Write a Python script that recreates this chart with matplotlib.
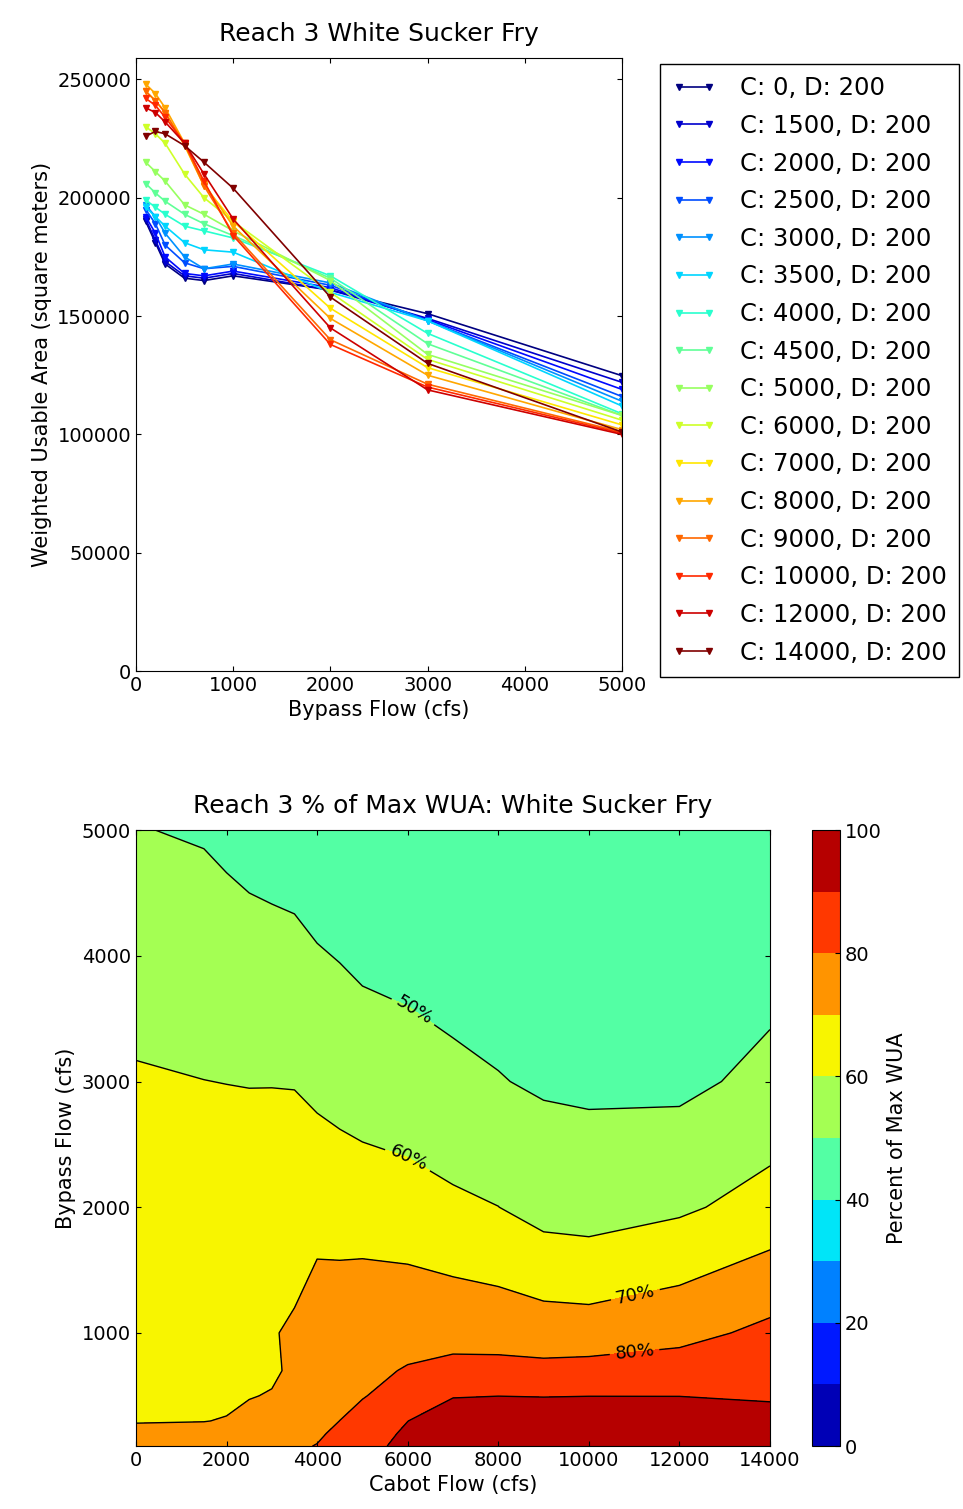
import numpy as np
import matplotlib
matplotlib.use('Agg')
import matplotlib.pyplot as plt

# bypass flows (cfs) sampled for every Cabot flow
bypass = [100, 200, 300, 500, 700, 1000, 2000, 3000, 5000]
cabot = [0, 1500, 2000, 2500, 3000, 3500, 4000, 4500, 5000,
         6000, 7000, 8000, 9000, 10000, 12000, 14000]

# weighted usable area (square meters), one row per Cabot flow
wua_c0 = [190000, 181000, 172000, 166000, 165000, 167000, 161000, 151000, 124800]
wua_c1500 = [191000, 182000, 173000, 167000, 166000, 168000, 161000, 149000, 122000]
wua_c2000 = [192000, 185000, 175000, 168000, 167000, 169000, 162000, 148500, 119000]
wua_c2500 = [195000, 189000, 180000, 172500, 170000, 171000, 163000, 148000, 116000]
wua_c3000 = [197000, 192000, 185000, 175000, 170000, 172000, 164000, 148000, 114000]
wua_c3500 = [196000, 192000, 188000, 181000, 178000, 177000, 160000, 148000, 112000]
wua_c4000 = [199000, 196000, 193000, 188000, 186000, 183000, 167000, 142700, 108700]
wua_c4500 = [206000, 202000, 198500, 193000, 189000, 184000, 166000, 138300, 108000]
wua_c5000 = [215000, 211000, 207000, 197000, 193000, 186000, 165000, 133800, 108000]
wua_c6000 = [230000, 227000, 223000, 210000, 200000, 190000, 160000, 131700, 106000]
wua_c7000 = [245000, 241000, 236000, 222000, 205000, 190000, 153300, 128200, 104000]
wua_c8000 = [248000, 244000, 238000, 223000, 206000, 188000, 149000, 125000, 102000]
wua_c9000 = [245000, 241000, 236000, 222500, 205000, 185000, 140000, 121200, 101000]
wua_c10000 = [242000, 239000, 234000, 223000, 207000, 184000, 138000, 120000, 100500]
wua_c12000 = [238000, 236000, 232000, 223000, 210000, 191000, 145000, 118800, 100000]
wua_c14000 = [226000, 228000, 227000, 222000, 215000, 204000, 158000, 130000, 101000]

wua = np.array([wua_c0, wua_c1500, wua_c2000, wua_c2500, wua_c3000, wua_c3500,
                wua_c4000, wua_c4500, wua_c5000, wua_c6000, wua_c7000, wua_c8000,
                wua_c9000, wua_c10000, wua_c12000, wua_c14000], dtype=float)
pct = wua / wua.max() * 100

fig = plt.figure(figsize=(9.63, 15.09), dpi=100)

# ---- top: WUA vs bypass flow
ax1 = fig.add_axes([0.1412, 0.5553, 0.5047, 0.4062])
colors = plt.cm.jet(np.linspace(0, 1, len(cabot)))
for i, c in enumerate(cabot):
    ax1.plot(bypass, wua[i], color=colors[i], marker='v', ms=5, lw=1.2,
             label='C: %d, D: 200' % c)
ax1.set_xlim(0, 5000)
ax1.set_ylim(0, 259000)
ax1.set_xticks([0, 1000, 2000, 3000, 4000, 5000])
ax1.set_yticks([0, 50000, 100000, 150000, 200000, 250000])
ax1.tick_params(direction='in', top=True, right=True, labelsize=14)
ax1.set_title('Reach 3 White Sucker Fry', fontsize=18, pad=12)
ax1.set_xlabel('Bypass Flow (cfs)', fontsize=15)
ax1.set_ylabel('Weighted Usable Area (square meters)', fontsize=15)
# legend hangs off the right edge like the original
ax1.legend(loc='upper left', bbox_to_anchor=(1.078, 0.99), fontsize=17.5,
           numpoints=2, handlelength=1.8, handletextpad=1.0, labelspacing=0.56,
           borderpad=0.5, borderaxespad=0, fancybox=False, edgecolor='black',
           framealpha=1)

# ---- bottom: percent of max WUA contour
ax2 = fig.add_axes([0.1412, 0.0417, 0.6584, 0.4082])
levels = np.arange(0, 101, 10)
cf = ax2.contourf(cabot, bypass, pct.T, levels=levels, cmap='jet')
cs = ax2.contour(cabot, bypass, pct.T, levels=[50, 60, 70, 80, 90],
                 colors='black', linewidths=1)
ax2.clabel(cs, levels=[50, 60, 70, 80], fmt='%d%%', fontsize=13, inline=True,
           manual=[(6200, 3600), (6200, 2500), (11000, 1350), (11000, 880)])
ax2.set_xlim(0, 14000)
ax2.set_ylim(100, 5000)
ax2.set_xticks(np.arange(0, 14001, 2000))
ax2.set_yticks([1000, 2000, 3000, 4000, 5000])
ax2.tick_params(direction='in', top=True, right=True, labelsize=14)
ax2.set_title('Reach 3 % of Max WUA: White Sucker Fry', fontsize=18, pad=12)
ax2.set_xlabel('Cabot Flow (cfs)', fontsize=15)
ax2.set_ylabel('Bypass Flow (cfs)', fontsize=15)

cax = fig.add_axes([0.843, 0.0417, 0.029, 0.4082])
cb = fig.colorbar(cf, cax=cax, ticks=[0, 20, 40, 60, 80, 100])
cb.ax.tick_params(labelsize=14, direction='in')
cb.set_label('Percent of Max WUA', fontsize=15)

fig.savefig('out.png', dpi=100)
